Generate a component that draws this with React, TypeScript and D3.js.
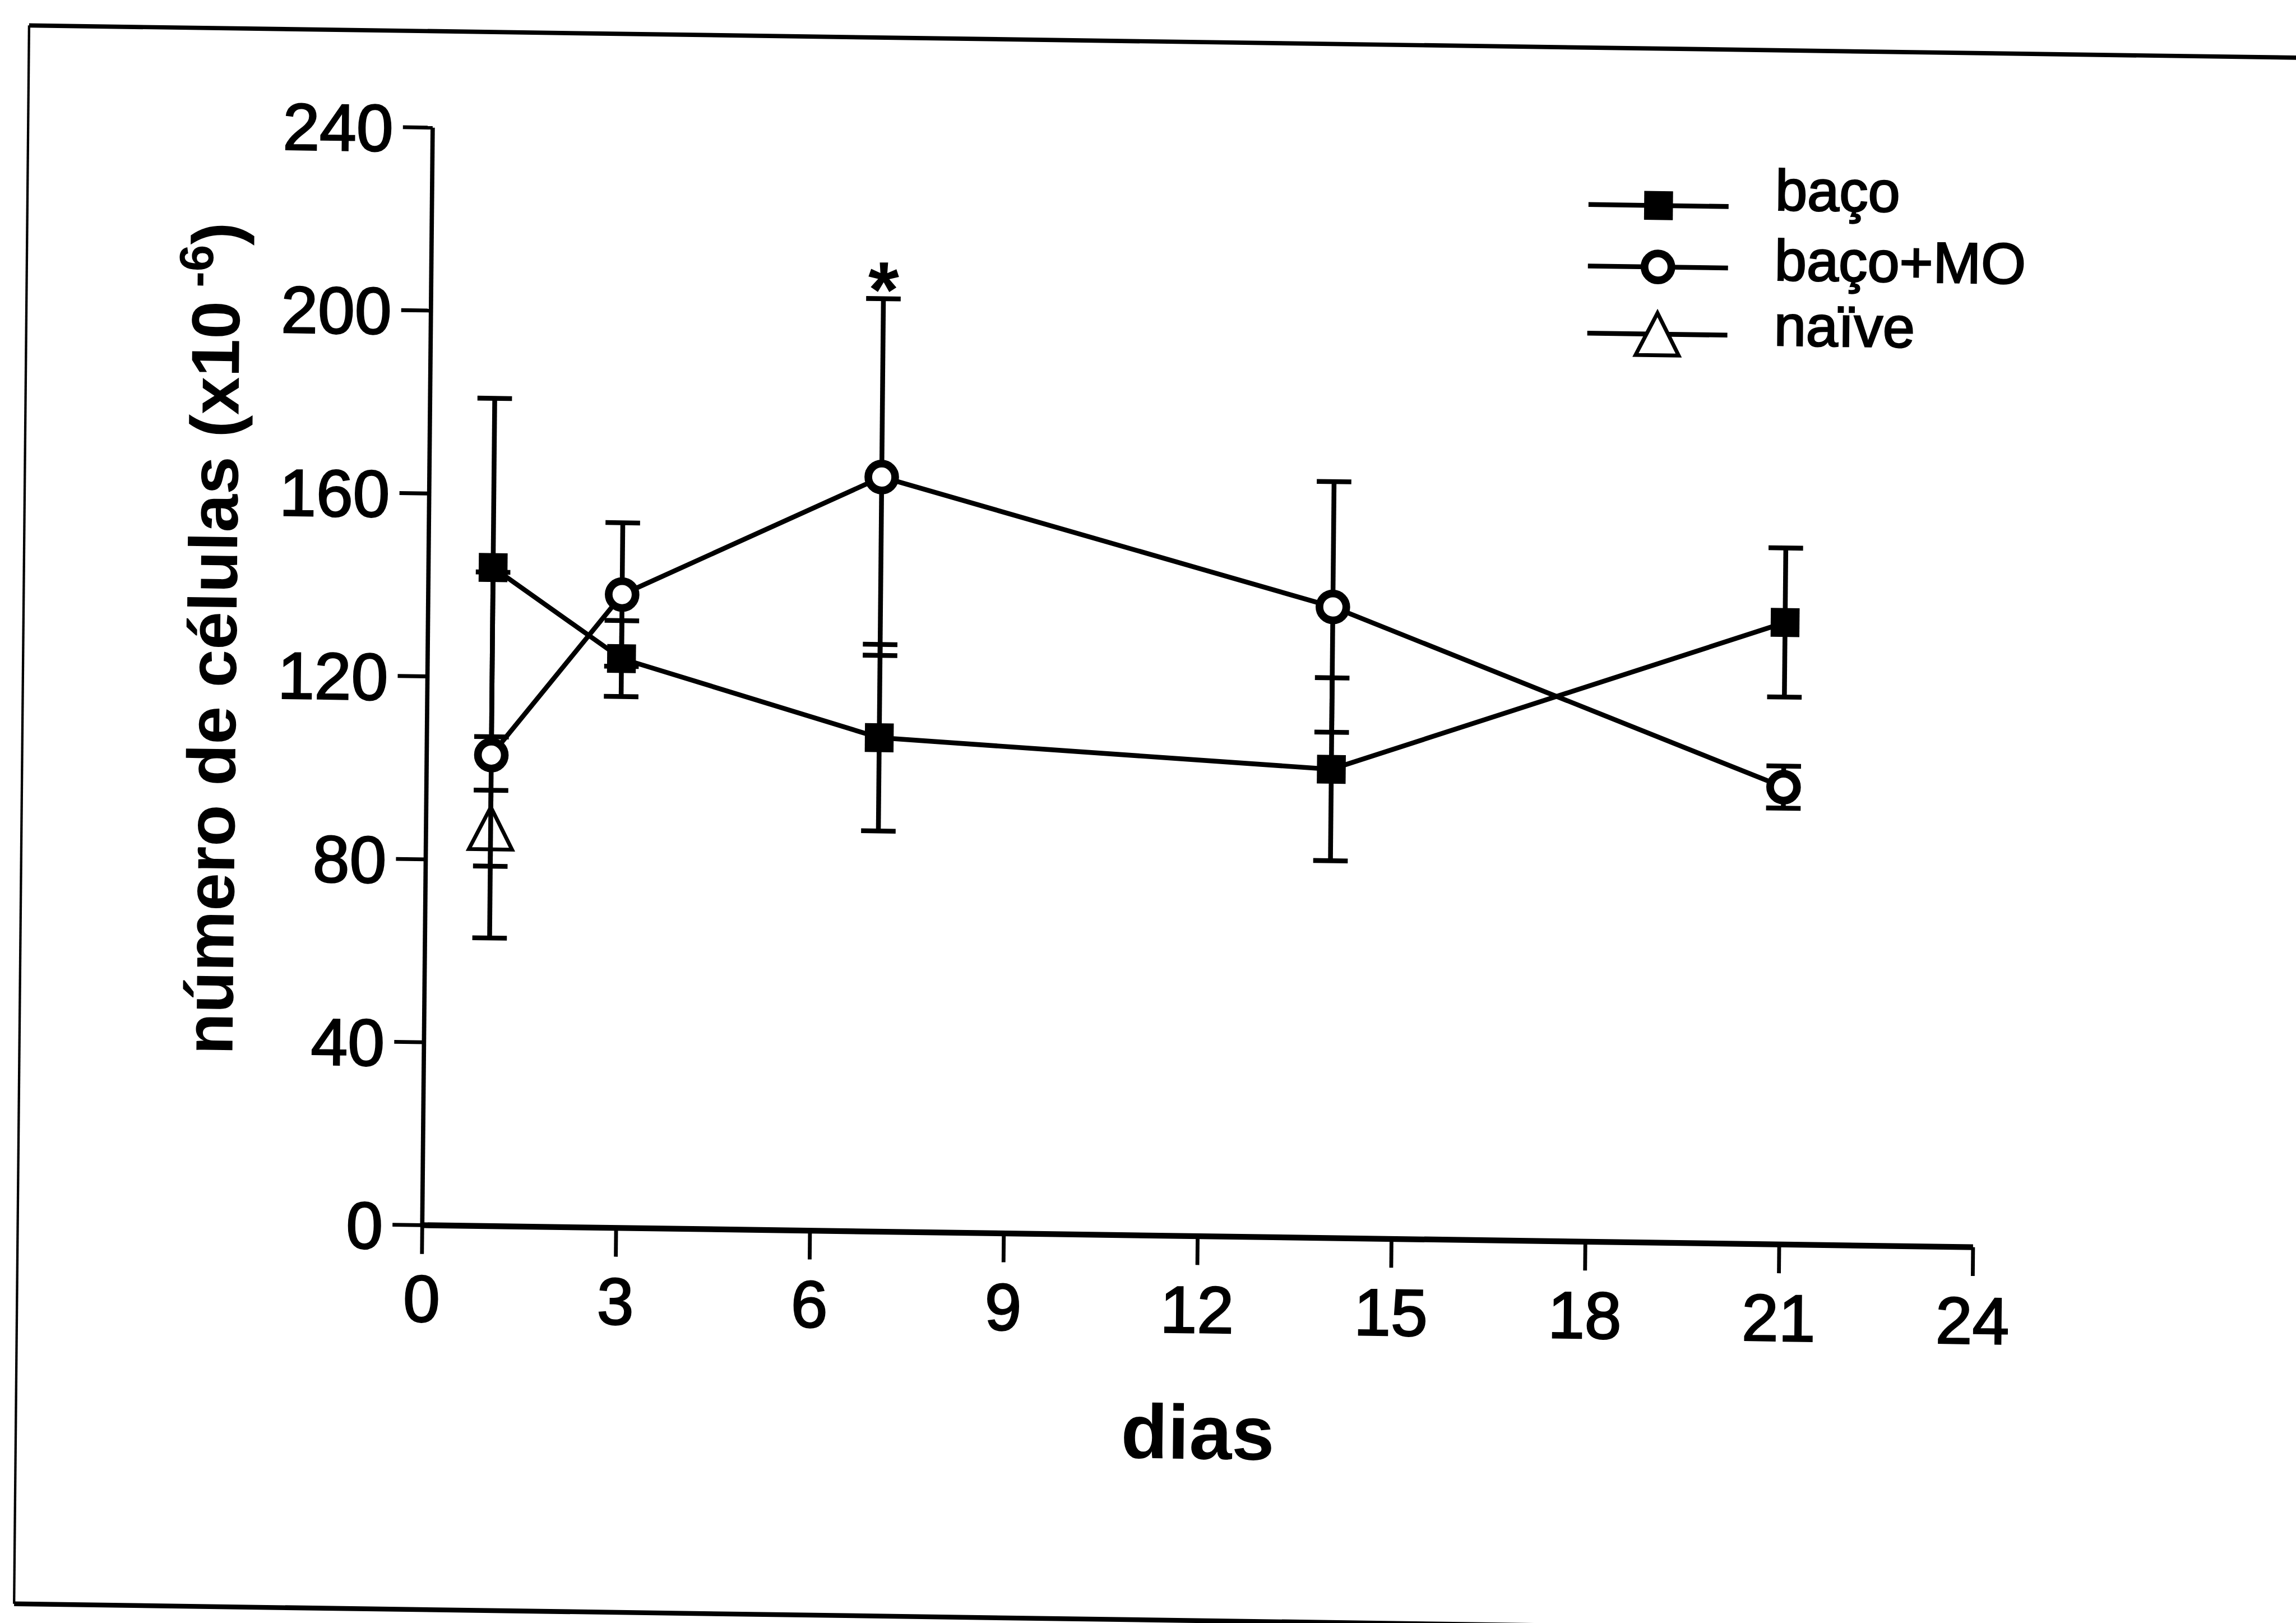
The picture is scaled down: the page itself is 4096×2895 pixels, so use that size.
import React from "react";
import * as d3 from "d3";

// ---- data -------------------------------------------------------------
const days = [1, 3, 7, 14, 21];

const bacoMean = [144, 124.5, 108, 102.5, 136];
const bacoSem = [37, 8.3, 20.4, 20, 16.3];

const bacoMoMean = [103, 138.5, 165, 138, 100];
const bacoMoSem = [40, 15.7, 39, 27.4, 4.6];

const naiveDays = [1];
const naiveMean = [87];
const naiveSem = [8.3];

const xTicks = [0, 3, 6, 9, 12, 15, 18, 21, 24];
const yTicks = [0, 40, 80, 120, 160, 200, 240];

const legendLabels = ["baço", "baço+MO", "naïve"];
const starIndex = 2; // day 7, baço+MO

// ---- layout (drawing units, scaled to the window at the end) -----------
const W = 4096;
const H = 2895;
const K = 0.856;
const FONT = "'Liberation Sans', Arial, Helvetica, sans-serif";

const x = d3.scaleLinear().domain([0, 24]).range([880, 4112]);
const y = d3.scaleLinear().domain([0, 240]).range([2553, 266]);

// slight scan skew of the printed figure
const skew = "matrix(1,0.0142,-0.0095,1,24.25,-12.5)";

const LINE_W = 10;
const ERR_W = 10;
const CAP = 72;
const SQ = 60;
const CR = 28;
const TRI_W = 90;
const TRI_H = 88;
const INK = 3; // slight thickening of printed text

type Shape = "square" | "circle" | "triangle";

function Marker({ cx, cy, shape }: { cx: number; cy: number; shape: Shape }) {
  if (shape === "square")
    return <rect x={cx - SQ / 2} y={cy - SQ / 2} width={SQ} height={SQ} fill="#000" />;
  if (shape === "circle")
    return <circle cx={cx} cy={cy} r={CR} fill="#fff" stroke="#000" strokeWidth={16} />;
  const p = d3.path();
  p.moveTo(cx, cy - TRI_H / 2);
  p.lineTo(cx + TRI_W / 2, cy + TRI_H / 2);
  p.lineTo(cx - TRI_W / 2, cy + TRI_H / 2);
  p.closePath();
  return <path d={p.toString()} fill="#fff" stroke="#000" strokeWidth={8} strokeLinejoin="miter" />;
}

function Series({
  xs,
  means,
  sems,
  shape,
}: {
  xs: number[];
  means: number[];
  sems: number[];
  shape: Shape;
}) {
  const pts = xs.map((d, i) => [d, means[i]] as [number, number]);
  const line = d3
    .line<[number, number]>()
    .x((d) => x(d[0]))
    .y((d) => y(d[1]));
  return (
    <g>
      {pts.length > 1 && (
        <path d={line(pts) || ""} fill="none" stroke="#000" strokeWidth={LINE_W} />
      )}
      {pts.map((d, i) => {
        const cx = x(d[0]);
        const hi = y(d[1] + sems[i]);
        const lo = y(d[1] - sems[i]);
        return (
          <g key={"e" + i} stroke="#000" strokeWidth={ERR_W}>
            <line x1={cx} x2={cx} y1={hi} y2={lo} />
            <line x1={cx - CAP / 2} x2={cx + CAP / 2} y1={hi} y2={hi} />
            <line x1={cx - CAP / 2} x2={cx + CAP / 2} y1={lo} y2={lo} />
          </g>
        );
      })}
      {pts.map((d, i) => (
        <Marker key={"m" + i} cx={x(d[0])} cy={y(d[1])} shape={shape} />
      ))}
    </g>
  );
}

export default function App() {
  const legendShapes: Shape[] = ["square", "circle", "triangle"];
  const legendLineY = [392, 520, 660];
  const legendTextY = [398, 544, 680];
  const starX = x(days[starIndex]);
  const starY = y(bacoMoMean[starIndex] + bacoMoSem[starIndex]);

  return (
    <svg
      width={W}
      height={H}
      viewBox={`0 0 ${W} ${H}`}
      style={{ position: "absolute", left: 0, top: 0, display: "block", background: "#fff" }}
    >
      <rect x={0} y={0} width={W} height={H} fill="#fff" />
      <g transform={`scale(${K}) ${skew}`} fontFamily={FONT}>
        {/* page frame */}
        <g stroke="#000" fill="none">
          <line x1={37} x2={5000} y1={65} y2={65} strokeWidth={9} />
          <line x1={37} x2={37} y1={65} y2={3354} strokeWidth={5} />
          <line x1={37} x2={5000} y1={3354} y2={3354} strokeWidth={10} />
        </g>

        {/* y axis */}
        <g>
          <line x1={x(0)} x2={x(0)} y1={y(0)} y2={y(240)} stroke="#000" strokeWidth={9} />
          {yTicks.map((t) => (
            <g key={"yt" + t}>
              <line x1={x(0) - 62} x2={x(0)} y1={y(t)} y2={y(t)} stroke="#000" strokeWidth={8} />
              <text
                x={x(0) - 82}
                y={y(t) + 50}
                textAnchor="end"
                fontSize={138}
                fill="#000"
                stroke="#000"
                strokeWidth={INK}
              >
                {t}
              </text>
            </g>
          ))}
        </g>

        {/* x axis */}
        <g>
          <line x1={x(0)} x2={x(24)} y1={y(0)} y2={y(0)} stroke="#000" strokeWidth={12} />
          {xTicks.map((t) => (
            <g key={"xt" + t}>
              <line x1={x(t)} x2={x(t)} y1={y(0)} y2={y(0) + 60} stroke="#000" strokeWidth={8} />
              <text
                x={x(t)}
                y={y(0) + 201}
                textAnchor="middle"
                fontSize={138}
                fill="#000"
                stroke="#000"
                strokeWidth={INK}
              >
                {t}
              </text>
            </g>
          ))}
        </g>

        {/* axis titles */}
        <text
          transform={`translate(481,2204) rotate(-90)`}
          fontSize={142}
          fontWeight="bold"
          fill="#000"
        >
          número de células (x10
          <tspan fontSize={100} dy={-56}>
            {" -6"}
          </tspan>
          <tspan dy={56}>)</tspan>
        </text>
        <text x={2500} y={3017} textAnchor="middle" fontSize={160} fontWeight="bold" fill="#000">
          dias
        </text>

        {/* data */}
        <Series xs={naiveDays} means={naiveMean} sems={naiveSem} shape="triangle" />
        <Series xs={days} means={bacoMean} sems={bacoSem} shape="square" />
        <Series xs={days} means={bacoMoMean} sems={bacoMoSem} shape="circle" />

        <text x={starX} y={starY + 38} textAnchor="middle" fontSize={165} fontWeight="bold" fill="#000">
          *
        </text>

        {/* legend */}
        {legendLabels.map((lab, i) => (
          <g key={"lg" + i}>
            <line
              x1={3290}
              x2={3582}
              y1={legendLineY[i]}
              y2={legendLineY[i]}
              stroke="#000"
              strokeWidth={LINE_W}
            />
            <Marker cx={3436} cy={legendLineY[i]} shape={legendShapes[i]} />
            <text
              x={3679}
              y={legendTextY[i]}
              fontSize={120}
              fill="#000"
              stroke="#000"
              strokeWidth={INK}
            >
              {lab}
            </text>
          </g>
        ))}
      </g>
    </svg>
  );
}
